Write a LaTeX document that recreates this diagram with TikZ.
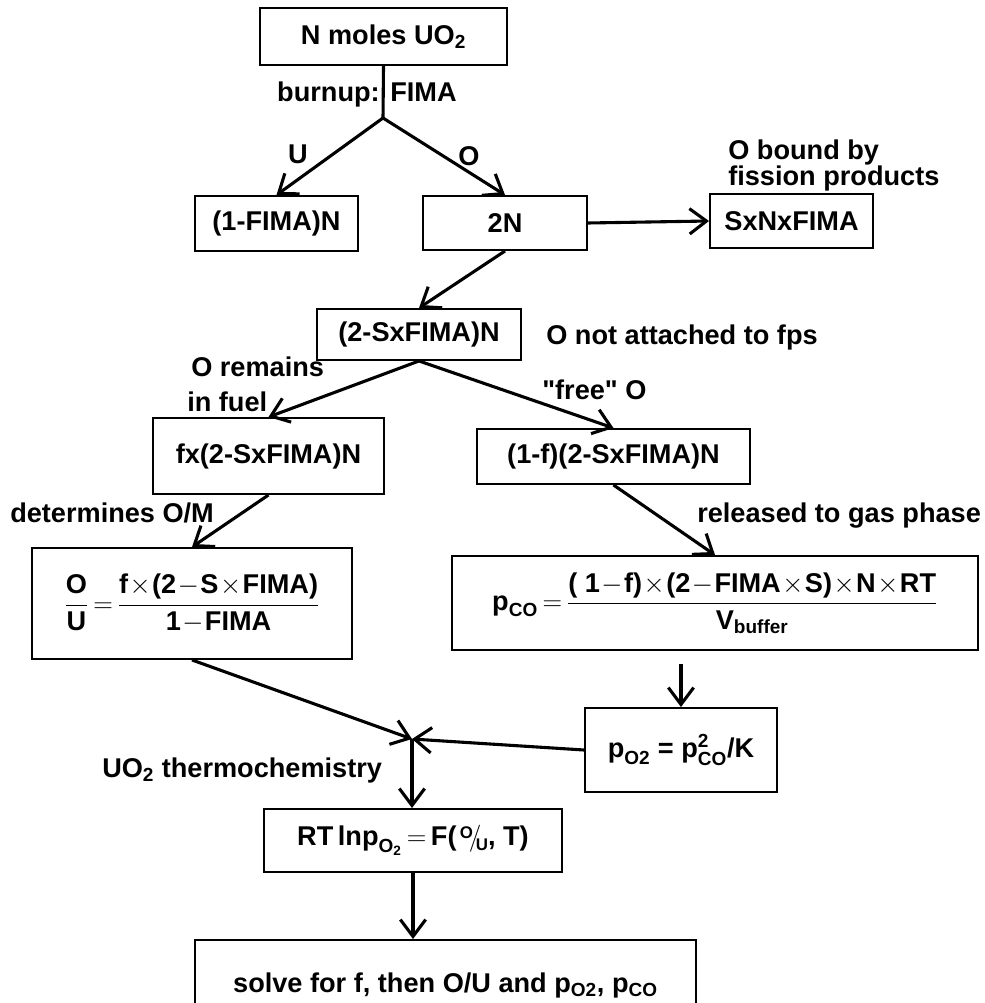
\RequirePackage{fix-cm}
\documentclass[tikz,border=0pt]{standalone}
\usepackage{amsmath}
\usepackage{fontspec}
\setmainfont{Liberation Sans}
\usetikzlibrary{arrows.meta,positioning,calc}
\newcommand{\px}{0.025cm}
\newcommand{\tx}[1]{\text{#1}}
\newcommand{\slfrac}[2]{\raisebox{.55ex}{\fontsize{12}{12}\selectfont #1}\kern-.15em\ensuremath{/}\kern-.2em\raisebox{-.35ex}{\fontsize{12}{12}\selectfont #2}}

\begin{document}
\begin{tikzpicture}[x=\px, y=-\px,
    font=\fontsize{19.3}{21}\selectfont\bfseries,
    box/.style 2 args={draw, line width=1.4pt, inner sep=0pt, align=center,
                       minimum width=#1*\px, minimum height=#2*\px},
    lbl/.style={inner sep=0pt, anchor=base west},
    eqn/.style={execute at begin node={\medmuskip=1mu\thickmuskip=3mu}},
    arr/.style={line width=2.2pt, -{Straight Barb[length=12pt,width=18pt]}}]

  \useasboundingbox (0,0) rectangle (984,1003);

  % boxes
  \node[box={247}{57}]  (moles) at (383.5,36.5) {N moles UO\textsubscript{2}};
  \node[box={163}{55}]  (fima)  at (276.5,223.5) {(1-FIMA)N};
  \node[box={164}{54}]  (twoN)  at (505,223) {2N};
  \node[box={163}{54}]  (sxn)   at (791.5,221) {SxNxFIMA};
  \node[box={204}{51}]  (rest)  at (419,334.5) {(2-SxFIMA)N};
  \node[box={231}{76}]  (fuel)  at (268.5,456) {fx(2-SxFIMA)N};
  \node[box={273}{55}]  (free)  at (613.5,456.5) {(1-f)(2-SxFIMA)N};
  \node[box={320}{111}, eqn] (ou) at (192,603.5)
    {\(\displaystyle \frac{\tx{O}}{\tx{U}} =
       \frac{\tx{f}\times\tx{(2}-\tx{S}\times\tx{FIMA)}}{\tx{1}-\tx{FIMA}}\)};
  \node[box={526}{94}, eqn] (pco) at (715,603)
    {\(\displaystyle \tx{p}_{\tx{CO}} =
       \frac{\tx{( 1}-\tx{f)}\times\tx{(2}-\tx{FIMA}\times\tx{S)}\times\tx{N}\times\tx{RT}}
            {\tx{V}_{\tx{buffer}}}\)};
  \node[box={192}{84}]  (po2)   at (681,750)
    {\(\tx{p}_{\tx{O2}}\tx{ = }\tx{p}^{\tx{2}}_{\tx{CO}}\tx{/K}\)};
  \node[box={298}{63}, eqn] (rt) at (413,840.5)
    {\(\tx{RT\,lnp}_{\tx{O}_{\tx{2}}} = \tx{F(\kern.12em\slfrac{O}{U}, T)}\)};
  \node[box={501}{90}]  (bot)   at (445.5,985)
    {solve for f, then O/U and p\textsubscript{O2}, p\textsubscript{CO}};

  % labels
  \node[lbl, anchor=base east] at (380,102) {burnup:};
  \node[lbl] at (390,102) {FIMA};
  \node[lbl, anchor=base] at (298,164) {U};
  \node[lbl, anchor=base] at (469,166) {O};
  \node[lbl] at (728,160) {O bound by};
  \node[lbl] at (728,186) {fission products};
  \node[lbl] at (546,345) {O not attached to fps};
  \node[lbl] at (191,376) {O remains};
  \node[lbl] at (187,411) {in fuel};
  \node[lbl] at (542,399) {\textquotedbl free\textquotedbl{} O};
  \node[lbl] at (10,522)  {determines O/M};
  \node[lbl] at (697,522) {released to gas phase};
  \node[lbl] at (102,777) {UO\textsubscript{2} thermochemistry};

  % arrows
  \coordinate (split) at (383,118);
  \coordinate (join)  at (412,739);
  \draw[line width=2.2pt] (moles.south) -- (split);
  \draw[arr] (split) -- (fima.north);
  \draw[arr] (split) -- (twoN.north);
  \draw[arr] (twoN.east) -- (sxn.west);
  \draw[arr] (twoN.south) -- (rest.north);
  \draw[arr] (rest.south) -- (fuel.north);
  \draw[arr] (rest.south) -- (free.north);
  \draw[arr] (fuel.south) -- (ou.north);
  \draw[arr] (free.south) -- (pco.north);
  \draw[arr] ([yshift=-13*\px]pco.south -| po2.north) -- (po2.north);
  \draw[arr] (ou.south) -- (join);
  \draw[arr] (po2.west) -- (join);
  \draw[arr] (join) -- (join |- rt.north);
  \draw[arr] (rt.south) -- (rt.south |- bot.north);
\end{tikzpicture}
\end{document}
